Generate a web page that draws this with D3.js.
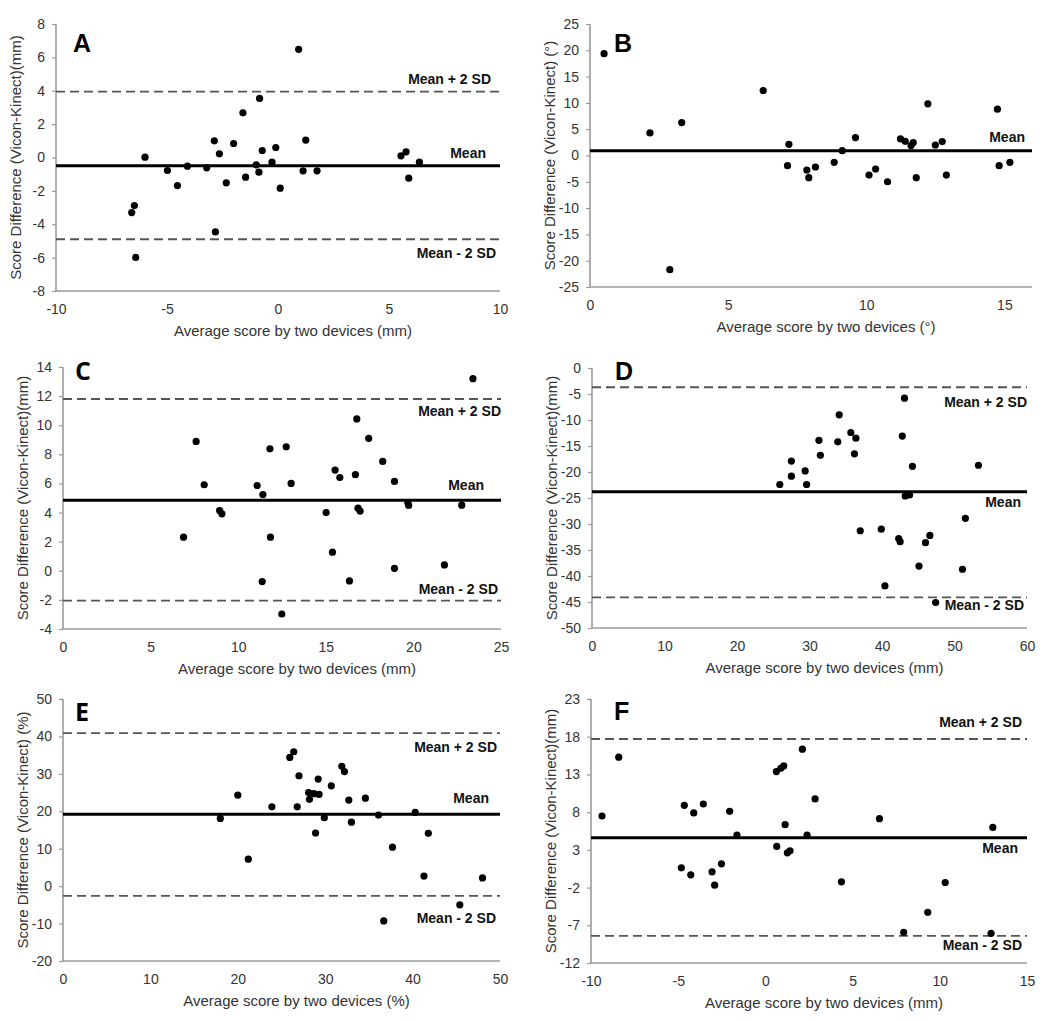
<!DOCTYPE html>
<html>
<head>
<meta charset="utf-8">
<script src="https://cdn.jsdelivr.net/npm/d3@7"></script>
<style>
  body { margin: 0; background: #fff; }
  svg { display: block; font-family: "Liberation Sans", Arial, sans-serif; }
</style>
</head>
<body>
<svg id="chart" width="1050" height="1021"></svg>
<script>
// Bland-Altman data (x = average of two devices, y = Vicon - Kinect)
const aX = [0.93, -0.83, -1.58, -2.87, -2.0, -2.64, -0.71, -0.1, 1.25, -5.99, -4.98, -4.08, -3.21, -4.53, -2.33,
  -1.46, -0.98, -0.86, -0.27, 0.1, 1.13, 1.76, -6.47, -6.59, -6.41, -2.82, 5.54, 5.77, 5.89, 6.37]
const aY = [6.48, 3.54, 2.68, 1.0, 0.84, 0.22, 0.42, 0.6, 1.04, 0.02, -0.78, -0.52, -0.62, -1.68, -1.52,
  -1.18, -0.44, -0.88, -0.28, -1.84, -0.8, -0.8, -2.88, -3.3, -5.99, -4.46, 0.1, 0.34, -1.24, -0.28]

const bX = [0.51, 2.17, 3.32, 2.89, 6.27, 7.2, 7.15, 7.85, 7.92, 8.16, 8.84, 9.13, 9.61, 10.1, 10.34,
  10.77, 11.24, 11.41, 11.62, 11.7, 11.81, 12.23, 12.5, 12.75, 12.9, 14.75, 14.81, 15.2]
const bY = [19.35, 4.29, 6.26, -21.7, 12.36, 2.13, -1.94, -2.76, -4.22, -2.19, -1.3, 0.92, 3.4, -3.72, -2.57,
  -4.99, 3.15, 2.7, 1.88, 2.45, -4.22, 9.82, 2.0, 2.64, -3.72, 8.8, -1.94, -1.3]

const cX = [6.88, 7.6, 8.06, 8.94, 9.07, 11.08, 11.41, 11.37, 11.81, 11.84, 12.49, 12.74, 13.02, 15.02, 15.38, 15.53,
  15.8, 16.35, 16.69, 16.77, 16.84, 16.96, 17.45, 18.25, 18.92, 18.92, 19.68, 19.73, 21.77, 22.76, 23.4]
const cY = [2.31, 8.89, 5.91, 4.14, 3.91, 5.86, 5.24, -0.74, 8.38, 2.31, -2.97, 8.52, 6.0, 4.0, 1.28, 6.92,
  6.41, -0.7, 6.6, 10.43, 4.3, 4.1, 9.1, 7.51, 6.14, 0.17, 4.69, 4.49, 0.4, 4.51, 13.2]

const dX = [25.9, 27.5, 27.5, 29.4, 29.6, 31.3, 31.5, 33.9, 34.1, 35.7, 36.4, 36.2, 37.0, 39.9, 40.4,
  42.3, 42.5, 42.8, 43.1, 43.2, 43.8, 44.2, 45.1, 46.0, 46.6, 47.4, 51.1, 51.5, 53.3]
const dY = [-22.4, -17.9, -20.8, -19.8, -22.4, -13.9, -16.8, -14.2, -9.0, -12.4, -13.5, -16.5, -31.3, -31.0, -41.9,
  -32.8, -33.4, -13.1, -5.8, -24.6, -24.4, -18.9, -38.1, -33.6, -32.2, -45.1, -38.7, -28.9, -18.7]

const eX = [18.0, 20.0, 21.2, 23.9, 25.95, 26.4, 27.0, 26.8, 28.1, 28.2, 28.7, 28.9, 29.2, 29.3, 29.9,
  30.7, 31.9, 32.2, 32.7, 33.0, 34.6, 36.1, 36.7, 37.7, 40.3, 41.3, 41.8, 45.4, 48.0]
const eY = [18.1, 24.3, 7.2, 21.2, 34.4, 35.9, 29.5, 21.2, 25.0, 23.2, 24.7, 14.2, 28.6, 24.5, 18.3,
  26.8, 32.0, 30.6, 23.0, 17.1, 23.5, 19.0, -9.3, 10.4, 19.7, 2.7, 14.1, -5.0, 2.2]

const fX = [-9.37, -8.41, -4.82, -4.65, -4.28, -4.11, -3.56, -3.06, -2.91, -2.52, -2.05, -1.63, 0.65, 0.63, 0.88,
  1.05, 1.13, 1.26, 1.41, 2.12, 2.39, 2.85, 4.36, 6.54, 7.93, 9.31, 10.31, 12.94, 13.04]
const fY = [7.49, 15.29, 0.62, 8.9, -0.31, 7.89, 9.08, 0.09, -1.68, 1.15, 8.11, 4.96, 3.46, 13.38, 13.82,
  14.13, 6.34, 2.61, 2.88, 16.35, 4.96, 9.75, -1.24, 7.13, -7.93, -5.27, -1.33, -8.06, 5.98]

// mean and limits of agreement (mean, mean+2SD, mean-2SD)
const aLimits = [-0.5, 3.95, -4.9]
const bLimits = [0.9, null, null]
const cLimits = [4.85, 11.8, -2.05]
const dLimits = [-23.8, -3.7, -44.1]
const eLimits = [19.2, 40.9, -2.6]
const fLimits = [4.6, 17.7, -8.4]

// axis ticks
const aXTicks = [-10, -5, 0, 5, 10], aYTicks = [-8, -6, -4, -2, 0, 2, 4, 6, 8]
const bXTicks = [0, 5, 10, 15], bYTicks = [-25, -20, -15, -10, -5, 0, 5, 10, 15, 20, 25]
const cXTicks = [0, 5, 10, 15, 20, 25], cYTicks = [-4, -2, 0, 2, 4, 6, 8, 10, 12, 14]
const dXTicks = [0, 10, 20, 30, 40, 50, 60], dYTicks = [-50, -45, -40, -35, -30, -25, -20, -15, -10, -5, 0]
const eXTicks = [0, 10, 20, 30, 40, 50], eYTicks = [-20, -10, 0, 10, 20, 30, 40, 50]
const fXTicks = [-10, -5, 0, 5, 10, 15], fYTicks = [-12, -7, -2, 3, 8, 13, 18, 23]

const LIMIT_TEXT = ['Mean', 'Mean + 2 SD', 'Mean - 2 SD']

// layout per panel: plot box, axis titles, letter, and where each limit label sits (px from its line)
const panels = [
  { id: 'A', x: aX, y: aY, lim: aLimits, xt: aXTicks, yt: aYTicks, xd: [-10, 10], yd: [-8, 8],
    box: [56, 500, 24, 291], xl: 'Average score by two devices (mm)', yl: 'Score Difference (Vicon-Kinect)(mm)',
    letter: [73, 52], labOff: [-8, -8, 19], labRight: [486, 491, 496] },
  { id: 'B', x: bX, y: bY, lim: bLimits, xt: bXTicks, yt: bYTicks, xd: [0, 16], yd: [-25, 25],
    box: [590, 1032, 24, 287], xl: 'Average score by two devices (°)', yl: 'Score Difference (Vicon-Kinect) (°)',
    letter: [614, 52], labOff: [-9, 0, 0], labRight: [1025, 0, 0] },
  { id: 'C', x: cX, y: cY, lim: cLimits, xt: cXTicks, yt: cYTicks, xd: [0, 25], yd: [-4, 14],
    box: [63, 501, 367, 629], xl: 'Average score by two devices (mm)', yl: 'Score Difference (Vicon-Kinect)(mm)',
    letter: [75, 380], labOff: [-10, 17, -7], labRight: [484, 501, 498], letterFont: 'Open Sans' },
  { id: 'D', x: dX, y: dY, lim: dLimits, xt: dXTicks, yt: dYTicks, xd: [0, 60], yd: [-50, 0],
    box: [592, 1027, 368, 628], xl: 'Average score by two devices (mm)', yl: 'Score Difference (Vicon-Kinect)(mm)',
    letter: [615, 380], labOff: [15, 20, 13], labRight: [1021, 1027, 1024] },
  { id: 'E', x: eX, y: eY, lim: eLimits, xt: eXTicks, yt: eYTicks, xd: [0, 50], yd: [-20, 50],
    box: [63, 500, 699, 961], xl: 'Average score by two devices (%)', yl: 'Score Difference (Vicon-Kinect) (%)',
    letter: [75, 721], labOff: [-11, 19, 27], labRight: [489, 497, 496], letterFont: 'Open Sans' },
  { id: 'F', x: fX, y: fY, lim: fLimits, xt: fXTicks, yt: fYTicks, xd: [-10, 15], yd: [-12, 23],
    box: [591, 1027, 699, 963], xl: 'Average score by two devices (mm)', yl: 'Score Difference (Vicon-Kinect)(mm)',
    letter: [614, 720], labOff: [15, -12, 14], labRight: [1018, 1022, 1022] },
]

const svg = d3.select('#chart')

panels.forEach(p => {
  const [l, r, t, b] = p.box
  const x = d3.scaleLinear().domain(p.xd).range([l, r])
  const y = d3.scaleLinear().domain(p.yd).range([b, t])
  const g = svg.append('g')

  // axes
  const yAxis = g.append('g').attr('transform', `translate(${l},0)`)
    .call(d3.axisLeft(y).tickValues(p.yt).tickSize(4).tickPadding(7).tickFormat(d3.format('d')))
  const xAxis = g.append('g').attr('transform', `translate(0,${b})`)
    .call(d3.axisBottom(x).tickValues(p.xt).tickSize(0).tickPadding(13).tickFormat(d3.format('d')))
  ;[xAxis, yAxis].forEach(ax => {
    ax.select('.domain').attr('stroke', '#9a9a9a').attr('stroke-width', 1.6)
    ax.selectAll('.tick line').attr('stroke', '#9a9a9a').attr('stroke-width', 1.2)
    ax.selectAll('.tick text').attr('fill', '#333').style('font-size', '14px')
      .text(d => d < 0 ? '-' + Math.abs(d) : d)
  })
  xAxis.select('.domain').attr('d', `M${l},0H${r}`)
  yAxis.select('.domain').attr('d', `M0,${b}V${t}`)

  // axis titles
  g.append('text').attr('x', (l + r) / 2 + 15).attr('y', b + 45)
    .attr('text-anchor', 'middle').attr('fill', '#333').style('font-size', '15px').text(p.xl)
  g.append('text').attr('transform', `translate(${l - 35},${(t + b) / 2}) rotate(-90)`)
    .attr('text-anchor', 'middle').attr('fill', '#333').style('font-size', '15px').text(p.yl)

  // mean and limits of agreement
  p.lim.forEach((v, i) => {
    if (v === null) return
    g.append('line').attr('x1', l).attr('x2', r).attr('y1', y(v)).attr('y2', y(v))
      .attr('stroke', i === 0 ? '#000' : '#555')
      .attr('stroke-width', i === 0 ? 3 : 1.8)
      .attr('stroke-dasharray', i === 0 ? null : '9,5')
    g.append('text').attr('x', p.labRight[i]).attr('y', y(v) + p.labOff[i])
      .attr('text-anchor', 'end').attr('fill', '#111')
      .style('font-size', '14px').style('font-weight', 'bold').text(LIMIT_TEXT[i])
  })

  // points
  g.selectAll('circle.pt').data(p.x.map((xv, i) => [xv, p.y[i]])).join('circle')
    .attr('class', 'pt').attr('cx', d => x(d[0])).attr('cy', d => y(d[1])).attr('r', 3.6).attr('fill', '#000')

  // panel letter
  g.append('text').attr('x', p.letter[0]).attr('y', p.letter[1])
    .style('font-family', p.letterFont || 'Liberation Sans').style('font-size', '25px').style('font-weight', 'bold')
    .text(p.id)
})
</script>
</body>
</html>
